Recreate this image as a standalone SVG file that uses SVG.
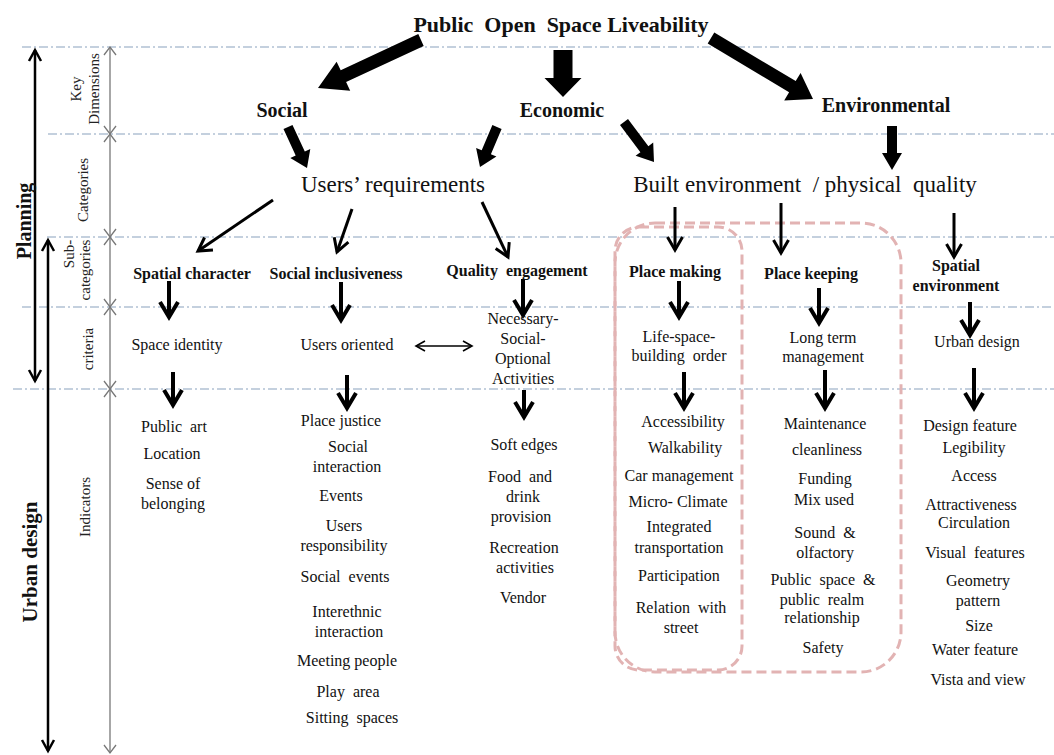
<svg xmlns="http://www.w3.org/2000/svg" width="1054" height="755" viewBox="0 0 1054 755">
<style>
text{font-family:"Liberation Serif","Times New Roman",serif;fill:#111}
.t{font-size:16px;text-anchor:middle}
.b{font-size:16px;font-weight:bold;text-anchor:middle}
.k{font-size:20px;font-weight:bold;text-anchor:middle}
.c{font-size:23px;text-anchor:middle}
.s{font-size:15px;text-anchor:middle;fill:#222}
.ax{font-weight:bold;text-anchor:middle}
.dash{stroke:#8aa2bd;stroke-width:1.1;stroke-dasharray:9 3 2 3;fill:none}
.box{fill:none;stroke:#e2b3b3;stroke-width:3;stroke-dasharray:10 5}
.thin{stroke:#000;stroke-width:3;fill:none;marker-end:url(#vThin)}
.mid{stroke:#000;stroke-width:4;fill:none;marker-end:url(#vMid)}
.dim{stroke:#777;stroke-width:1.3;fill:none}
</style>
<defs>
<marker id="vThin" markerUnits="userSpaceOnUse" markerWidth="1" markerHeight="1" refX="0" refY="0" orient="auto" overflow="visible">
<path d="M-13,-7.5 L0,0 L-13,7.5" fill="none" stroke="#000" stroke-width="3"/>
</marker>
<marker id="vMid" markerUnits="userSpaceOnUse" markerWidth="1" markerHeight="1" refX="0" refY="0" orient="auto" overflow="visible">
<path d="M-15,-9 L0,0 L-15,9" fill="none" stroke="#000" stroke-width="4"/>
</marker>
<marker id="vAxis" markerUnits="userSpaceOnUse" markerWidth="1" markerHeight="1" refX="0" refY="0" orient="auto-start-reverse" overflow="visible">
<path d="M-11,-6 L0,0 L-11,6" fill="none" stroke="#000" stroke-width="2.5"/>
</marker>
<marker id="vDbl" markerUnits="userSpaceOnUse" markerWidth="1" markerHeight="1" refX="0" refY="0" orient="auto-start-reverse" overflow="visible">
<path d="M-9,-5 L0,0 L-9,5" fill="none" stroke="#000" stroke-width="1.6"/>
</marker>
</defs>
<rect width="1054" height="755" fill="#fff"/>

<g id="guides">
<line class="dash" x1="22" y1="47" x2="1054" y2="47"/>
<line class="dash" x1="48" y1="134" x2="1054" y2="134"/>
<line class="dash" x1="47" y1="237" x2="1054" y2="237"/>
<line class="dash" x1="22" y1="307" x2="1054" y2="307"/>
<line class="dash" x1="13" y1="389" x2="1054" y2="389"/>
</g>

<g id="axis-planning">
<line x1="35" y1="50" x2="35" y2="381" stroke="#000" stroke-width="2.5" marker-start="url(#vAxis)" marker-end="url(#vAxis)"/>
<text class="ax" font-size="20" transform="translate(31,221) rotate(-90)">Planning</text>
</g>
<g id="axis-urban-design">
<line x1="48" y1="240" x2="48" y2="751" stroke="#000" stroke-width="2.5" marker-start="url(#vAxis)" marker-end="url(#vAxis)"/>
<text class="ax" font-size="21" transform="translate(37,562) rotate(-90)">Urban design</text>
</g>
<g id="axis-levels">
<line class="dim" x1="110" y1="47" x2="110" y2="753"/>
<path class="dim" d="M104,55 L110,47 L116,55 M104,126 L110,134 L116,126 M104,142 L110,134 L116,142 M104,229 L110,237 L116,229 M104,245 L110,237 L116,245 M104,299 L110,307 L116,299 M104,315 L110,307 L116,315 M104,381 L110,389 L116,381 M104,397 L110,389 L116,397 M104,745 L110,753 L116,745"/>
<text class="s" transform="translate(81,89) rotate(-90)">Key</text>
<text class="s" transform="translate(99,89) rotate(-90)">Dimensions</text>
<text class="s" transform="translate(88,190) rotate(-90)">Categories</text>
<text class="s" transform="translate(74,254) rotate(-90)">Sub-</text>
<text class="s" transform="translate(90,270) rotate(-90)">categories</text>
<text class="s" transform="translate(93,349) rotate(-90)">criteria</text>
<text class="s" transform="translate(90,507) rotate(-90)">Indicators</text>
</g>

<g id="boxes">
<rect class="box" x="615" y="227" width="127" height="443" rx="24"/>
<rect class="box" x="615" y="223" width="286" height="449" rx="40"/>
</g>

<g id="connectors">
<polygon points="418.3,34.1 340.7,70.3 336.6,61.7 318,88 350.2,90.7 346.1,82.1 423.7,45.9"/>
<polygon points="553.5,50 572.5,50 572.5,78 581.5,78 563,97 544.5,78 553.5,78"/>
<polygon points="714.3,32.4 795.7,81.1 800.6,73.0 813,99 784.2,100.4 789.1,92.3 707.7,43.6"/>
<polygon points="292.5,124.9 304.8,151.4 310.3,148.9 307,168 290.3,158.1 295.7,155.6 283.5,129.1"/>
<polygon points="492.4,125.0 481.7,150.3 476.1,148.0 480,167 496.4,156.6 490.9,154.2 501.6,129.0"/>
<polygon points="628,119 648.4,146.2 653.2,142.6 654,162 635.6,155.8 640.4,152.2 620,125"/>
<polygon points="887,126 897,126 897,153 902,153 892,170 882,153 887,153"/>
<line class="thin" x1="273" y1="200" x2="198" y2="251"/>
<line class="thin" x1="352" y1="209" x2="337" y2="252"/>
<line class="thin" x1="482" y1="202" x2="508" y2="257"/>
<line class="thin" x1="675" y1="207" x2="675" y2="250"/>
<line class="thin" x1="781" y1="203" x2="781" y2="253"/>
<line class="thin" x1="954" y1="213" x2="954" y2="257"/>
<line class="mid" x1="169" y1="281" x2="169" y2="317"/>
<line class="mid" x1="341" y1="282" x2="341" y2="320"/>
<line class="mid" x1="523" y1="279" x2="523" y2="315"/>
<line class="mid" x1="679" y1="281" x2="679" y2="317"/>
<line class="mid" x1="819" y1="288" x2="819" y2="323"/>
<line class="mid" x1="970" y1="302" x2="970" y2="335"/>
<line class="mid" x1="173" y1="372" x2="173" y2="405"/>
<line class="mid" x1="347" y1="375" x2="347" y2="408"/>
<line class="mid" x1="524" y1="390" x2="524" y2="417"/>
<line class="mid" x1="684" y1="372" x2="684" y2="408"/>
<line class="mid" x1="825" y1="370" x2="825" y2="408"/>
<line class="mid" x1="974" y1="368" x2="974" y2="408"/>
<line x1="416" y1="346" x2="472" y2="346" stroke="#000" stroke-width="1.6" marker-start="url(#vDbl)" marker-end="url(#vDbl)"/>
</g>

<g id="title"><text xml:space="preserve" x="561" y="32" font-size="22" font-weight="bold" text-anchor="middle">Public  Open  Space Liveability</text></g>
<g id="social"><text class="k" x="282" y="117">Social</text></g>
<g id="economic"><text class="k" x="562" y="117">Economic</text></g>
<g id="environmental"><text class="k" x="886" y="112">Environmental</text></g>
<g id="users-requirements"><text class="c" x="393" y="192">Users’ requirements</text></g>
<g id="built-environment"><text class="c" xml:space="preserve" x="805" y="192">Built environment  / physical  quality</text></g>

<g id="spatial-character">
<text class="b" x="192" y="279">Spatial character</text>
<text class="t" x="177" y="350">Space identity</text>
<text class="t" xml:space="preserve" x="174" y="432">Public  art</text>
<text class="t" x="172" y="459">Location</text>
<text class="t" x="173" y="489">Sense of</text>
<text class="t" x="173" y="509">belonging</text>
</g>
<g id="social-inclusiveness">
<text class="b" x="336" y="279">Social inclusiveness</text>
<text class="t" x="347" y="350">Users oriented</text>
<text class="t" x="341" y="426">Place justice</text>
<text class="t" x="348" y="452">Social</text>
<text class="t" x="347" y="472">interaction</text>
<text class="t" x="341" y="501">Events</text>
<text class="t" x="344" y="531">Users</text>
<text class="t" x="344" y="551">responsibility</text>
<text class="t" xml:space="preserve" x="345" y="582">Social  events</text>
<text class="t" x="347" y="617">Interethnic</text>
<text class="t" x="349" y="637">interaction</text>
<text class="t" x="347" y="666">Meeting people</text>
<text class="t" xml:space="preserve" x="348" y="697">Play  area</text>
<text class="t" xml:space="preserve" x="352" y="723">Sitting  spaces</text>
</g>
<g id="quality-engagement">
<text class="b" xml:space="preserve" x="517" y="276">Quality  engagement</text>
<text class="t" x="523" y="324">Necessary-</text>
<text class="t" x="523" y="344">Social-</text>
<text class="t" x="523" y="364">Optional</text>
<text class="t" x="523" y="384">Activities</text>
<text class="t" x="524" y="450">Soft edges</text>
<text class="t" xml:space="preserve" x="520" y="482">Food  and</text>
<text class="t" x="523" y="502">drink</text>
<text class="t" x="521" y="522">provision</text>
<text class="t" x="524" y="553">Recreation</text>
<text class="t" x="525" y="573">activities</text>
<text class="t" x="523" y="603">Vendor</text>
</g>
<g id="place-making">
<text class="b" x="675" y="277">Place making</text>
<text class="t" x="679" y="342">Life-space-</text>
<text class="t" xml:space="preserve" x="679" y="361">building  order</text>
<text class="t" x="683" y="427">Accessibility</text>
<text class="t" x="685" y="453">Walkability</text>
<text class="t" x="679" y="481">Car management</text>
<text class="t" x="678" y="507">Micro- Climate</text>
<text class="t" x="679" y="532">Integrated</text>
<text class="t" x="679" y="553">transportation</text>
<text class="t" x="679" y="581">Participation</text>
<text class="t" xml:space="preserve" x="681" y="613">Relation  with</text>
<text class="t" x="681" y="633">street</text>
</g>
<g id="place-keeping">
<text class="b" x="811" y="279">Place keeping</text>
<text class="t" x="823" y="343">Long term</text>
<text class="t" x="823" y="362">management</text>
<text class="t" x="825" y="429">Maintenance</text>
<text class="t" x="827" y="455">cleanliness</text>
<text class="t" x="825" y="484">Funding</text>
<text class="t" x="824" y="505">Mix used</text>
<text class="t" xml:space="preserve" x="825" y="538">Sound  &amp;</text>
<text class="t" x="825" y="558">olfactory</text>
<text class="t" xml:space="preserve" x="823" y="585">Public  space  &amp;</text>
<text class="t" xml:space="preserve" x="822" y="605">public  realm</text>
<text class="t" x="822" y="623">relationship</text>
<text class="t" x="823" y="653">Safety</text>
</g>
<g id="spatial-environment">
<text class="b" x="956" y="271">Spatial</text>
<text class="b" x="956" y="291">environment</text>
<text class="t" x="977" y="347">Urban design</text>
<text class="t" x="970" y="431">Design feature</text>
<text class="t" x="974" y="453">Legibility</text>
<text class="t" x="974" y="481">Access</text>
<text class="t" x="971" y="510">Attractiveness</text>
<text class="t" x="974" y="528">Circulation</text>
<text class="t" xml:space="preserve" x="975" y="558">Visual  features</text>
<text class="t" x="978" y="586">Geometry</text>
<text class="t" x="978" y="606">pattern</text>
<text class="t" x="979" y="631">Size</text>
<text class="t" x="975" y="655">Water feature</text>
<text class="t" x="978" y="685">Vista and view</text>
</g>
</svg>
